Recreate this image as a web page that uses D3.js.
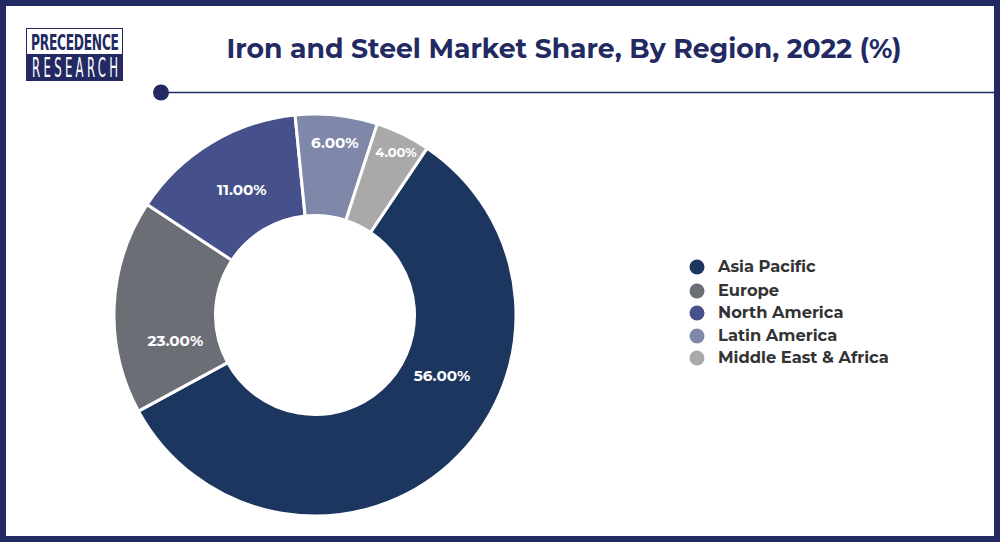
<!DOCTYPE html>
<html><head><meta charset="utf-8">
<script src="https://cdnjs.cloudflare.com/ajax/libs/d3/7.8.5/d3.min.js"></script>
<style>html,body{margin:0;padding:0;background:#fff}svg{display:block}text{font-family:Montserrat,Lato,"Open Sans",sans-serif}</style>
</head><body><svg id="c" width="1000" height="542"></svg>
<script>
const categories=["Asia Pacific","Europe","North America","Latin America","Middle East & Africa"];
// Wedge sizes as actually drawn in the picture (they differ from the printed labels)
const drawnShares=[57.65,17.2,14.15,6.6,4.4];
const labels=["56.00%","23.00%","11.00%","6.00%","4.00%"];
const labelAngles=[115.7,259.5,329.7,6.6,26.4];
const labelRadii=[141,142,145,173,182];
const colors=["#1c365f","#6b6e75","#46508a","#8088aa","#a9a9a9"];
const startDeg=33.9;
const rad=d=>d*Math.PI/180;
const svg=d3.select("#c");
svg.append("rect").attr("x",3).attr("y",3).attr("width",994).attr("height",536).attr("fill","#fff").attr("stroke","#232a63").attr("stroke-width",6);
// logo
const narrow="'Liberation Sans Narrow','DejaVu Sans Condensed',sans-serif";
const logo=svg.append("g");
logo.append("rect").attr("x",26.5).attr("y",28.5).attr("width",96).attr("height",52).attr("fill","#fff").attr("stroke","#232a63");
logo.append("rect").attr("x",26).attr("y",54).attr("width",97).attr("height",27).attr("fill","#232a63");
logo.append("text").attr("transform","translate(31,50) scale(0.62,1)").attr("fill","#232a63").attr("font-size",22).attr("font-weight",700).attr("textLength",88/0.62).attr("lengthAdjust","spacing").style("font-family",narrow).text("PRECEDENCE");
logo.append("text").attr("transform","translate(32,77) scale(0.5,1)").attr("fill","#fff").attr("font-size",26).attr("textLength",86/0.5).attr("lengthAdjust","spacing").style("font-family",narrow).text("RESEARCH");
// title
svg.append("text").attr("x",564).attr("y",58).attr("text-anchor","middle").attr("fill","#232a63").attr("font-size",27).attr("font-weight",700).attr("textLength",675).attr("lengthAdjust","spacingAndGlyphs").text("Iron and Steel Market Share, By Region, 2022 (%)");
svg.append("line").attr("x1",161).attr("x2",994).attr("y1",92.5).attr("y2",92.5).attr("stroke","#232a63").attr("stroke-width",1.5);
svg.append("circle").attr("cx",161).attr("cy",92.5).attr("r",8).attr("fill","#232a63");
// donut
const g=svg.append("g").attr("transform","translate(315,315)");
const pie=d3.pie().sort(null).startAngle(rad(startDeg)).endAngle(rad(startDeg)+2*Math.PI)(drawnShares);
const arc=d3.arc().innerRadius(99.5).outerRadius(201);
g.selectAll("path").data(pie).join("path").attr("d",arc).attr("fill",(d,i)=>colors[i]).attr("stroke","#fff").attr("stroke-width",3);
g.selectAll("text").data(labels).join("text")
 .attr("transform",(d,i)=>{const [x,y]=d3.pointRadial(rad(labelAngles[i]),labelRadii[i]);return `translate(${x},${y})`;})
 .attr("dy","0.35em").attr("text-anchor","middle").attr("fill","#fff").attr("font-weight",700).attr("font-size",(d,i)=>i==4?13:15.2).text(d=>d);
// legend
const ly=d3.scaleOrdinal().domain(categories).range([267,291,313,336,358]);
const leg=svg.append("g").selectAll("g").data(categories).join("g").attr("transform",d=>`translate(697,${ly(d)})`);
leg.append("circle").attr("r",7.5).attr("fill",(d,i)=>colors[i]);
leg.append("text").attr("x",21).attr("dy","0.3em").attr("fill","#333").attr("font-weight",700).attr("font-size",16.3).text(d=>d);
</script></body></html>
